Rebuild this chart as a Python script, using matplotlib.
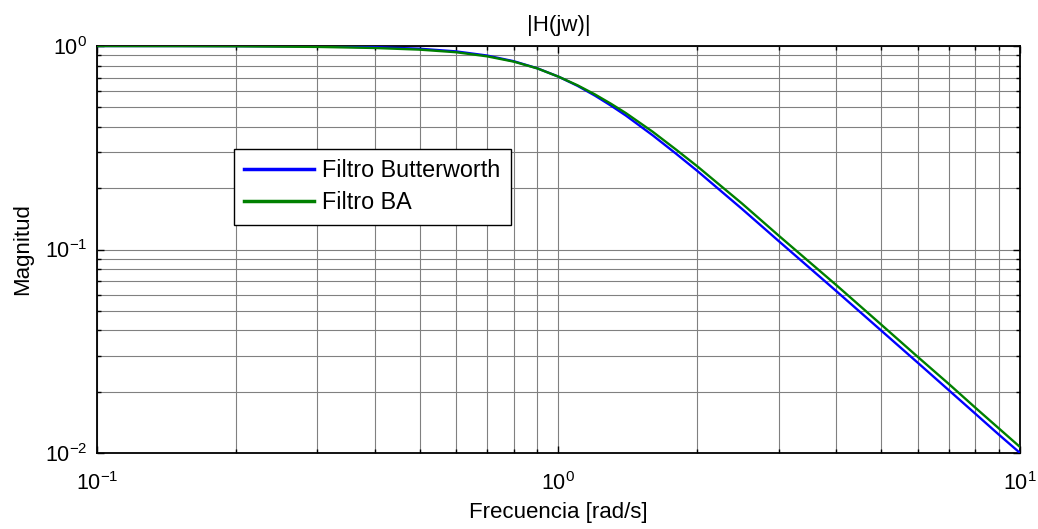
import matplotlib
matplotlib.use("Agg")
import matplotlib.pyplot as plt
from matplotlib.ticker import LogLocator, NullFormatter

plt.rcParams['font.family'] = ['Liberation Sans', 'DejaVu Sans']
plt.rcParams['mathtext.fontset'] = 'custom'
plt.rcParams['mathtext.rm'] = 'Liberation Sans'
plt.rcParams['mathtext.it'] = 'Liberation Sans'
plt.rcParams['mathtext.bf'] = 'Liberation Sans'

# Frequency samples (rad/s) and magnitude responses
freq = [0.1, 0.15, 0.2, 0.3, 0.4, 0.5, 0.6, 0.7, 0.8, 0.9, 1.0, 1.1, 1.2, 1.3,
        1.4, 1.6, 1.8, 2.0, 2.5, 3.0, 4.0, 5.0, 6.0, 7.0, 8.0, 9.0, 10.0]
butterworth = [1.0, 1.0, 0.999, 0.996, 0.987, 0.970, 0.941, 0.898, 0.842, 0.777,
               0.707, 0.637, 0.570, 0.509, 0.455, 0.364, 0.295, 0.243, 0.158,
               0.110, 0.0624, 0.0400, 0.0278, 0.0204, 0.0156, 0.0123, 0.0100]
filtro_ba = [1.0, 0.999, 0.997, 0.990, 0.978, 0.960, 0.932, 0.890, 0.838, 0.776,
             0.707, 0.641, 0.578, 0.520, 0.468, 0.379, 0.309, 0.256, 0.168,
             0.117, 0.0668, 0.0428, 0.0297, 0.0219, 0.0167, 0.0132, 0.0107]

labels = ['Filtro Butterworth', 'Filtro BA']
title = '|H(jw)|'
xlabel = 'Frecuencia [rad/s]'
ylabel = 'Magnitud'
xtick_vals = [0.1, 1, 10]
xtick_labels = [r'$\mathregular{10^{-1}}$', r'$\mathregular{10^{0}}$', r'$\mathregular{10^{1}}$']
ytick_vals = [0.01, 0.1, 1]
ytick_labels = [r'$\mathregular{10^{-2}}$', r'$\mathregular{10^{-1}}$', r'$\mathregular{10^{0}}$']

fig = plt.figure(figsize=(10.38, 5.29), dpi=100)
ax = fig.add_axes([0.0934, 0.1437, 0.8893, 0.7693])

ax.plot(freq, butterworth, color='#0000FF', lw=1.7, label=labels[0], zorder=3)
ax.plot(freq, filtro_ba, color='#008000', lw=1.7, label=labels[1], zorder=3)

ax.set_xscale('log')
ax.set_yscale('log')
ax.set_xlim(0.1, 10)
ax.set_ylim(0.01, 1)

ax.set_xticks(xtick_vals)
ax.set_xticklabels(xtick_labels)
ax.set_yticks(ytick_vals)
ax.set_yticklabels(ytick_labels)
for axis in (ax.xaxis, ax.yaxis):
    axis.set_minor_locator(LogLocator(base=10, subs=range(2, 10)))
    axis.set_minor_formatter(NullFormatter())

ax.grid(True, which='both', color='#808080', lw=0.8, ls='-', zorder=0)
ax.set_axisbelow(True)

ax.tick_params(which='both', direction='in', top=True, right=True,
               labelsize=15.5, width=1.0, color='black')
ax.tick_params(which='major', length=5)
ax.tick_params(axis='x', which='major', pad=14)
ax.tick_params(axis='y', which='major', pad=7)
ax.tick_params(which='minor', length=3)
for s in ax.spines.values():
    s.set_linewidth(1.3)
    s.set_color('black')

ax.set_title(title, fontsize=16, pad=11)
ax.set_xlabel(xlabel, fontsize=16, labelpad=5)
ax.set_ylabel(ylabel, fontsize=16, labelpad=8)

leg = ax.legend(loc='upper left', bbox_to_anchor=(0.148, 0.748), fontsize=16.8,
                frameon=True, fancybox=False, edgecolor='black', framealpha=1,
                borderpad=0.45, borderaxespad=0, handlelength=3.0,
                handletextpad=0.35, labelspacing=0.4)
leg.get_frame().set_linewidth(1.0)
for line in leg.get_lines():
    line.set_linewidth(2.5)

fig.savefig('out.png', dpi=100)
